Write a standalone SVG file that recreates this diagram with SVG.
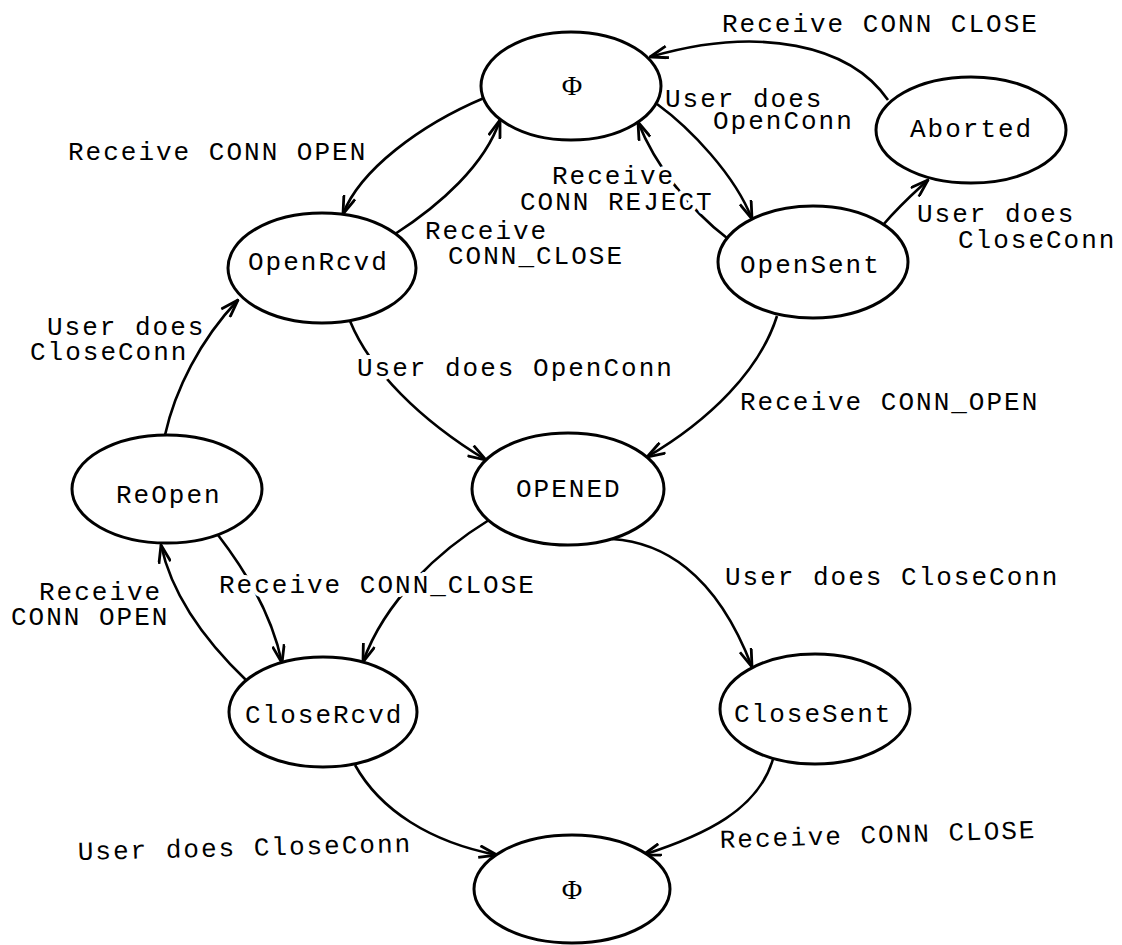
<svg xmlns="http://www.w3.org/2000/svg" width="1122" height="945" viewBox="0 0 1122 945">
<style>
.node{fill:#fff;stroke:#000;stroke-width:3}
.edge{fill:none;stroke:#000;stroke-width:2.6;marker-end:url(#arr)}
text{font-family:"Liberation Mono","Courier New",monospace;font-size:26px;letter-spacing:2px;fill:#000}
.halo{stroke:#fff;stroke-width:8;paint-order:stroke;stroke-linejoin:round}
.phi{font-family:"Liberation Serif","DejaVu Serif",serif;font-size:28px;letter-spacing:0;text-anchor:middle}
</style>
<defs>
<marker id="arr" viewBox="0 0 20 14" refX="19" refY="7" markerWidth="20" markerHeight="14" orient="auto" markerUnits="userSpaceOnUse">
<path d="M1,1 L19,7 L1,13" fill="none" stroke="#000" stroke-width="2.8"/>
</marker>
</defs>
<g id="connectors">
<path class="edge" d="M484 98 C420 125,360 170,343 214"/>
<path class="edge" d="M395 234 C440 205,485 165,500 120"/>
<path class="edge" d="M657 104 C690 128,735 175,752 219"/>
<path class="edge" d="M727 238 C690 210,655 165,638 122"/>
<path class="edge" d="M888 100 C850 45,760 25,650 57"/>
<path class="edge" d="M883 225 C900 205,915 192,928 180"/>
<path class="edge" d="M777 316 C760 370,710 420,647 457"/>
<path class="edge" d="M350 321 C370 370,420 420,486 460"/>
<path class="edge" d="M165 435 C175 390,200 340,238 300"/>
<path class="edge" d="M247 681 C225 660,175 610,161 545"/>
<path class="edge" d="M218 535 C245 570,272 615,282 663"/>
<path class="edge" d="M489 520 C440 550,385 600,363 662"/>
<path class="edge" d="M612 539 C660 542,715 570,752 667"/>
<path class="edge" d="M773 759 C758 810,705 835,643 855"/>
<path class="edge" d="M355 765 C380 810,430 842,497 855"/>
</g>
<g id="edge-labels">
<text x="722" y="32">Receive CONN CLOSE</text>
<text class="halo" x="665" y="107">User does<tspan x="713" y="129">OpenConn</tspan></text>
<text class="halo" x="552" y="184">Receive<tspan x="520" y="210">CONN REJECT</tspan></text>
<text x="68" y="160">Receive CONN OPEN</text>
<text class="halo" x="425" y="239">Receive<tspan x="448" y="264">CONN_CLOSE</tspan></text>
<text x="917" y="222">User does<tspan x="958" y="248">CloseConn</tspan></text>
<text class="halo" x="47" y="335">User does<tspan x="30" y="360">CloseConn</tspan></text>
<text class="halo" x="357" y="376">User does OpenConn</text>
<text class="halo" x="740" y="410">Receive CONN_OPEN</text>
<text class="halo" x="39" y="600">Receive<tspan x="11" y="625">CONN OPEN</tspan></text>
<text class="halo" x="219" y="593">Receive CONN_CLOSE</text>
<text class="halo" x="725" y="585">User does CloseConn</text>
<text x="78" y="860" transform="rotate(-1.4 78 860)">User does CloseConn</text>
<text x="720" y="848" transform="rotate(-1.8 720 848)">Receive CONN CLOSE</text>
</g>
<g id="node-phi-top"><ellipse class="node" cx="571" cy="86" rx="90" ry="54"/><text class="phi" x="572" y="95">Φ</text></g>
<g id="node-aborted"><ellipse class="node" cx="971" cy="130" rx="95" ry="53"/><text x="910" y="137">Aborted</text></g>
<g id="node-openrcvd"><ellipse class="node" cx="322" cy="268" rx="94" ry="55"/><text x="248" y="270">OpenRcvd</text></g>
<g id="node-opensent"><ellipse class="node" cx="813" cy="262" rx="95" ry="56"/><text x="740" y="273">OpenSent</text></g>
<g id="node-reopen"><ellipse class="node" cx="167" cy="489" rx="95" ry="54"/><text x="116" y="503">ReOpen</text></g>
<g id="node-opened"><ellipse class="node" cx="568" cy="489" rx="96" ry="56"/><text x="516" y="497">OPENED</text></g>
<g id="node-closercvd"><ellipse class="node" cx="323" cy="712" rx="94" ry="55"/><text x="245" y="723">CloseRcvd</text></g>
<g id="node-closesent"><ellipse class="node" cx="815" cy="709" rx="95" ry="55"/><text x="734" y="722">CloseSent</text></g>
<g id="node-phi-bottom"><ellipse class="node" cx="572" cy="889" rx="98" ry="54"/><text class="phi" x="572" y="899">Φ</text></g>
</svg>
